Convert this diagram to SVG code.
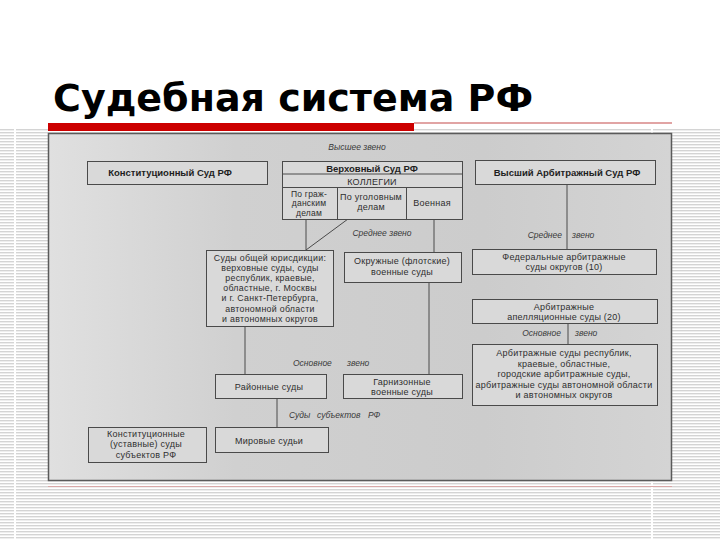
<svg xmlns="http://www.w3.org/2000/svg" width="720" height="540" viewBox="0 0 720 540">
  <defs>
    <pattern id="stripes" x="0" y="0" width="720" height="3" patternUnits="userSpaceOnUse">
      <rect x="0" y="0" width="720" height="1.4" fill="#d4d4d4"/>
    </pattern>
    <linearGradient id="panel" x1="0" y1="0" x2="1" y2="0">
      <stop offset="0" stop-color="#e0e0e0"/>
      <stop offset="0.3" stop-color="#d0d0d0"/>
      <stop offset="0.7" stop-color="#cccccc"/>
      <stop offset="1" stop-color="#d4d4d4"/>
    </linearGradient>
    <style>
      .box { fill: #d9d9d9; stroke: #4a4a4a; stroke-width: 1; }
      .t { font-family: "Liberation Sans", Arial, sans-serif; font-size: 9px; letter-spacing: 0.25px; fill: #2e2e2e; text-anchor: middle; }
      .s { font-size: 8.5px; letter-spacing: 0.2px; }
      .g { font-size: 8.8px; letter-spacing: 0.3px; }
      .b { font-weight: bold; font-size: 9.5px; letter-spacing: 0; fill: #1e1e1e; }
      .lbl { font-family: "Liberation Sans", Arial, sans-serif; font-size: 8.5px; font-style: italic; fill: #3a3a3a; }
      .conn line, .conn path { stroke: #4a4a4a; stroke-width: 1; fill: none; }
    </style>
  </defs>

  <!-- slide background -->
  <rect x="0" y="0" width="720" height="540" fill="#ffffff"/>
  <rect x="0" y="128" width="720" height="412" fill="url(#stripes)"/>
  <rect x="14" y="128" width="2" height="412" fill="#ffffff"/>
  <rect x="651" y="128" width="2" height="412" fill="#ffffff"/>

  <!-- title -->
  <text x="53" y="111" font-family="'DejaVu Sans', Verdana, sans-serif" font-weight="bold" font-size="38" fill="#000000">Судебная система РФ</text>

  <!-- red bars -->
  <rect x="48" y="123" width="366" height="8" fill="#cc0000"/>
  <rect x="414" y="122.5" width="258" height="1" fill="#c44a4a"/>
  <rect x="48" y="486" width="624" height="1" fill="#d9a8a8"/>

  <!-- diagram panel -->
  <rect x="48.5" y="133.5" width="623" height="347" fill="url(#panel)" stroke="#5a5a5a" stroke-width="1.5"/>

  <!-- level labels -->
  <text class="lbl" x="357" y="150" text-anchor="middle">Высшее звено</text>
  <text class="lbl" x="382" y="236" text-anchor="middle">Среднее звено</text>
  <text class="lbl" x="562" y="238" text-anchor="end">Среднее</text>
  <text class="lbl" x="572" y="238">звено</text>
  <text class="lbl" x="561" y="336" text-anchor="end">Основное</text>
  <text class="lbl" x="575" y="336">звено</text>
  <text class="lbl" x="293" y="366">Основное</text>
  <text class="lbl" x="347" y="366">звено</text>
  <text class="lbl" x="289" y="418">Суды</text>
  <text class="lbl" x="317" y="418">субъектов</text>
  <text class="lbl" x="368" y="418">РФ</text>

  <!-- connectors -->
  <g id="connectors" class="conn">
    <line x1="306" y1="220" x2="306" y2="250"/>
    <line x1="348" y1="219" x2="306" y2="250"/>
    <line x1="434" y1="220" x2="434" y2="252"/>
    <line x1="245" y1="326" x2="245" y2="374"/>
    <line x1="429" y1="282" x2="429" y2="374"/>
    <line x1="277" y1="398" x2="277" y2="427"/>
    <line x1="567" y1="184" x2="567" y2="249"/>
    <line x1="568" y1="323" x2="568" y2="344"/>
  </g>

  <!-- nodes -->
  <g id="const-court-rf">
    <rect class="box" x="87.5" y="161.5" width="180" height="23"/>
    <text class="t b" x="170" y="176">Конституционный Суд РФ</text>
  </g>

  <g id="supreme-court-rf">
    <rect class="box" x="282.5" y="161.5" width="180" height="58"/>
    <line x1="282.5" y1="174" x2="462.5" y2="174" stroke="#4a4a4a"/>
    <line x1="282.5" y1="187.5" x2="462.5" y2="187.5" stroke="#4a4a4a"/>
    <line x1="337.5" y1="187.5" x2="337.5" y2="219.5" stroke="#4a4a4a"/>
    <line x1="406.5" y1="187.5" x2="406.5" y2="219.5" stroke="#4a4a4a"/>
    <text class="t b" x="372" y="171.5">Верховный Суд РФ</text>
    <text class="t" x="372" y="184.5" letter-spacing="0.5">КОЛЛЕГИИ</text>
    <text class="t s" x="309" y="196.5">По граж-</text>
    <text class="t s" x="309" y="206.3">данским</text>
    <text class="t s" x="309" y="216.1">делам</text>
    <text class="t" x="371" y="199.5">По уголовным</text>
    <text class="t" x="371" y="210">делам</text>
    <text class="t" x="432" y="206">Военная</text>
  </g>

  <g id="supreme-arbitration-court">
    <rect class="box" x="475.5" y="160.5" width="180" height="24"/>
    <text class="t b" x="567" y="175.5">Высший Арбитражный Суд РФ</text>
  </g>

  <g id="general-jurisdiction">
    <rect class="box" x="206.5" y="250.5" width="127" height="76"/>
    <text class="t g" x="270" y="260.5">Суды общей юрисдикции:</text>
    <text class="t g" x="270" y="270.7">верховные суды, суды</text>
    <text class="t g" x="270" y="280.9">республик, краевые,</text>
    <text class="t g" x="270" y="291.1">областные, г. Москвы</text>
    <text class="t g" x="270" y="301.3">и г. Санкт-Петербурга,</text>
    <text class="t g" x="270" y="311.5">автономной области</text>
    <text class="t g" x="270" y="321.7">и автономных округов</text>
  </g>

  <g id="district-military">
    <rect class="box" x="344.5" y="252.5" width="117" height="30"/>
    <text class="t" x="402" y="264">Окружные (флотские)</text>
    <text class="t" x="402" y="275">военные суды</text>
  </g>

  <g id="federal-arbitration-districts">
    <rect class="box" x="472.5" y="249.5" width="184" height="25"/>
    <text class="t" x="564" y="259.5">Федеральные арбитражные</text>
    <text class="t" x="564" y="270">суды округов (10)</text>
  </g>

  <g id="arbitration-appeal">
    <rect class="box" x="472.5" y="299.5" width="185" height="24"/>
    <text class="t" x="564" y="309.5">Арбитражные</text>
    <text class="t" x="564" y="320">апелляционные суды (20)</text>
  </g>

  <g id="arbitration-regional">
    <rect class="box" x="472.5" y="344.5" width="185" height="61"/>
    <text class="t" x="564" y="356">Арбитражные суды республик,</text>
    <text class="t" x="564" y="366.5">краевые, областные,</text>
    <text class="t" x="564" y="377">городские арбитражные суды,</text>
    <text class="t" x="564" y="387.5">арбитражные суды автономной области</text>
    <text class="t" x="564" y="398">и автономных округов</text>
  </g>

  <g id="district-courts">
    <rect class="box" x="215.5" y="374.5" width="111" height="24"/>
    <text class="t" x="269" y="389.5">Районные суды</text>
  </g>

  <g id="garrison-military">
    <rect class="box" x="343.5" y="374.5" width="119" height="24"/>
    <text class="t" x="402" y="384.5">Гарнизонные</text>
    <text class="t" x="402" y="395">военные суды</text>
  </g>

  <g id="justices-of-peace">
    <rect class="box" x="215.5" y="427.5" width="113" height="25"/>
    <text class="t" x="269" y="443.5">Мировые судьи</text>
  </g>

  <g id="const-courts-subjects">
    <rect class="box" x="88.5" y="427.5" width="118" height="35"/>
    <text class="t" x="146" y="437">Конституционные</text>
    <text class="t" x="146" y="447.4">(уставные) суды</text>
    <text class="t" x="146" y="457.8">субъектов РФ</text>
  </g>
</svg>
